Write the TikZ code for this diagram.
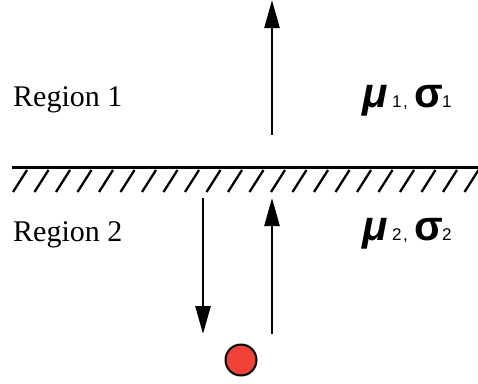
\documentclass[tikz,border=0pt]{standalone}
\usepackage{fontspec}
\setmainfont{Liberation Serif}
\newfontfamily\grkfont{Liberation Sans}
\usetikzlibrary{arrows.meta}
\definecolor{dotred}{RGB}{239,65,54}
\begin{document}
\begin{tikzpicture}[x=1pt,y=-1pt,
  arr/.style={line width=2.6pt,-{Triangle[length=28pt,width=15pt]}},
  lbl/.style={anchor=base west,inner sep=0pt,font=\fontsize{30}{30}\selectfont},
  grk/.style={anchor=base west,inner sep=0pt,font=\grkfont\bfseries\fontsize{42}{42}\selectfont},
  sub/.style={anchor=base west,inner sep=0pt,font=\grkfont\fontsize{17}{17}\selectfont}]
\useasboundingbox (0,0) rectangle (478,383);
\begin{scope}
\clip (0,0) rectangle (478,383);
\draw[line width=3pt] (12,167) -- (478,167);
\foreach \i in {0,...,22}
  \draw[line width=2.3pt] ({13+21.5*\i},192) -- ({27+21.5*\i},170);
\end{scope}
% labels
\node[lbl] (r1) at (13,106) {Region 1};
\node[lbl] (r2) at (13,241) {Region 2};
\node[grk] (mu1) at (362,107) {\itshape μ};
\node[sub] (s1) at (392,107) {1};
\node[sub] (c1) at (403,107) {,};
\node[grk] (sg1) at (414,107) {σ};
\node[sub] (t1) at (442,107) {1};
\node[grk] (mu2) at (362,240) {\itshape μ};
\node[sub] (s2) at (392,240) {2};
\node[sub] (c2) at (403,240) {,};
\node[grk] (sg2) at (414,240) {σ};
\node[sub] (t2) at (442,240) {2};
% arrows
\coordinate (a1s) at (272,135);
\coordinate (a1e) at (272,0);
\coordinate (a2s) at (203,198);
\coordinate (a2e) at (203,334);
\coordinate (a3s) at (272,334);
\coordinate (a3e) at (272,198);
\draw[arr] (a1s) -- (a1e);
\draw[arr] (a2s) -- (a2e);
\draw[arr] (a3s) -- (a3e);
\node[circle,draw,line width=2pt,fill=dotred,minimum size=31pt,inner sep=0pt] (dot) at (241,360) {};
\end{tikzpicture}
\end{document}
